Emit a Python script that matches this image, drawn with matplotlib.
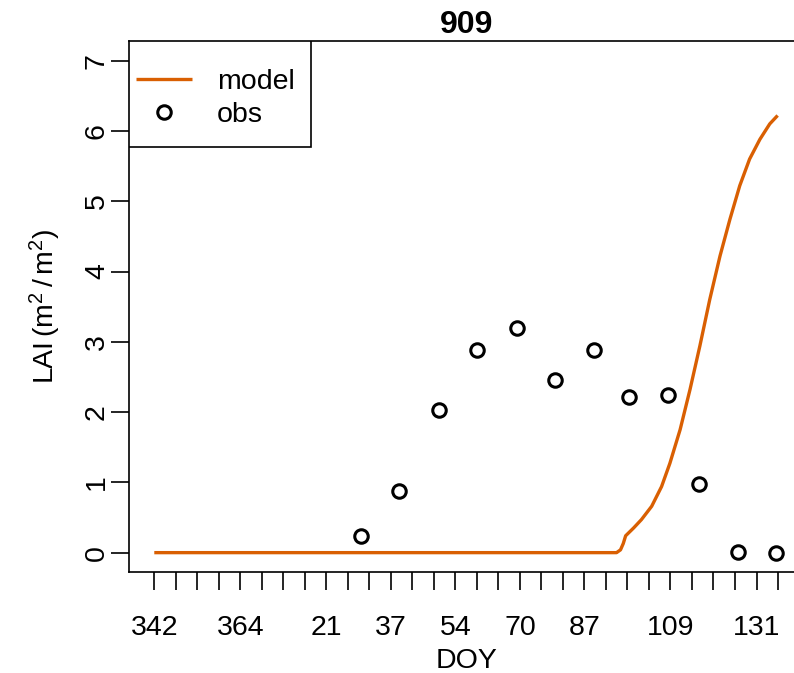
"""LAI time course for plot 909: modelled curve vs. field observations."""
import matplotlib
matplotlib.use("Agg")
import matplotlib.pyplot as plt
from matplotlib.patches import Rectangle
import numpy as np

plt.rcParams["font.family"] = ["Liberation Sans", "DejaVu Sans"]
plt.rcParams["mathtext.fontset"] = "custom"
plt.rcParams["mathtext.rm"] = "Liberation Sans"

ORANGE = "#D95F02"
FS = 20.5

# model LAI, days since DOY 342
model_day = [0, 117.1, 118.1, 118.8, 119.4, 121.4, 123.4, 126.0, 128.5, 130.6,
             133.2, 135.7, 138.2, 140.7, 143.3, 145.8, 148.3, 150.8, 153.4,
             155.9, 157.9]
model_lai = [0, 0, 0.04, 0.13, 0.24, 0.35, 0.47, 0.66, 0.94, 1.27,
             1.75, 2.32, 2.94, 3.60, 4.22, 4.74, 5.22, 5.60, 5.88,
             6.10, 6.22]

# observed LAI
obs_day = [52.3, 62.1, 72.1, 81.8, 91.8, 101.6, 111.4, 120.3, 130.2, 138.0,
           147.9, 157.6]
obs_lai = [0.23, 0.88, 2.03, 2.89, 3.19, 2.45, 2.88, 2.22, 2.24, 0.98,
           0.01, 0.0]

# x axis: 30 ticks over the season, DOY labels on a subset
n_ticks = 30
season_len = 158
doy_labels = {0: "342", 4: "364", 8: "21", 11: "37", 14: "54",
              17: "70", 20: "87", 24: "109", 28: "131"}

fig = plt.figure(figsize=(7.94, 6.73), dpi=100)
ax = fig.add_axes([0.1629, 0.1496, 0.8484, 0.7895])

ax.plot(model_day, model_lai, color=ORANGE, lw=2.4, label="model",
        solid_capstyle="butt", solid_joinstyle="round")
ax.plot(obs_day, obs_lai, ls="none", marker="o", ms=9.7, mfc="none",
        mec="black", mew=2.2, label="obs")

ax.set_xlim(-0.04 * season_len, season_len * 1.04)
ax.set_ylim(-0.28, 7.28)

ticks = np.linspace(0, season_len, n_ticks)
ax.set_xticks(ticks)
ax.set_xticklabels([doy_labels.get(i, "") for i in range(n_ticks)])
ax.set_yticks(range(0, 8))

for s in ax.spines.values():
    s.set_linewidth(1.2)
ax.tick_params(axis="both", length=13, width=1.2, labelsize=FS)
ax.tick_params(axis="x", pad=18)
ax.tick_params(axis="y", pad=1, labelrotation=90)
for lab in ax.get_yticklabels():
    lab.set_va("center")

ax.set_xlabel("DOY", fontsize=FS, labelpad=5)
ax.set_ylabel("LAI$\\mathregular{\\,(m^2\\,/\\,m^2)}$", fontsize=FS,
              labelpad=15)
ax.set_title("909", fontsize=23, fontweight="bold", pad=6)

# R-style legend box flush with the top-left corner
ax.add_patch(Rectangle((0, 0.800), 0.2693, 0.200, transform=ax.transAxes,
                       fill=True, facecolor="white", edgecolor="black",
                       lw=1.2, zorder=4))
leg = ax.legend(loc="upper left", bbox_to_anchor=(0.01, 0.947),
                frameon=False, fontsize=FS, handlelength=1.95,
                handletextpad=0.9, labelspacing=0.25, borderpad=0,
                borderaxespad=0)
leg.set_zorder(5)

fig.savefig("out.png", dpi=100)
